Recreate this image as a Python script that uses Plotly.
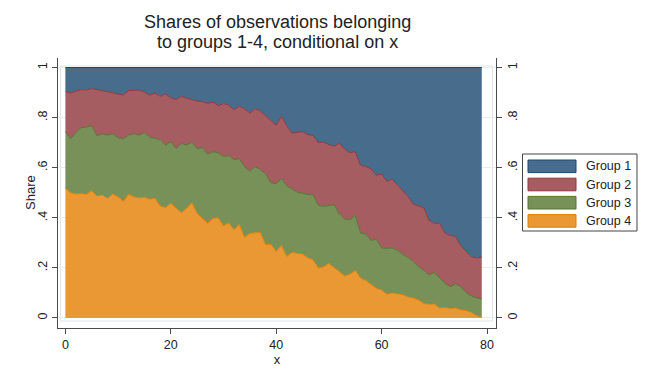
import numpy as np
import plotly.graph_objects as go

# ---------------- data ----------------
x_vals = list(range(80))

# cumulative upper edge of Group 4 (orange, bottom band)
top_g4 = [0.518, 0.500, 0.495, 0.497, 0.494, 0.508, 0.487, 0.491, 0.478, 0.495,
          0.484, 0.466, 0.494, 0.484, 0.480, 0.482, 0.474, 0.478, 0.447, 0.441,
          0.458, 0.438, 0.420, 0.438, 0.460, 0.418, 0.398, 0.378, 0.398, 0.400,
          0.368, 0.380, 0.352, 0.374, 0.322, 0.338, 0.340, 0.341, 0.292, 0.294,
          0.266, 0.289, 0.246, 0.262, 0.258, 0.255, 0.240, 0.232, 0.200, 0.205,
          0.218, 0.200, 0.185, 0.168, 0.175, 0.190, 0.160, 0.150, 0.135, 0.118,
          0.112, 0.095, 0.100, 0.098, 0.093, 0.084, 0.080, 0.072, 0.058, 0.055,
          0.056, 0.040, 0.042, 0.038, 0.040, 0.033, 0.030, 0.022, 0.010, 0.003]

# cumulative upper edge of Group 3 (green)
top_g3 = [0.744, 0.716, 0.740, 0.760, 0.762, 0.768, 0.727, 0.735, 0.730, 0.735,
          0.720, 0.716, 0.730, 0.736, 0.730, 0.740, 0.722, 0.716, 0.712, 0.690,
          0.704, 0.676, 0.697, 0.690, 0.702, 0.676, 0.680, 0.655, 0.664, 0.660,
          0.645, 0.648, 0.632, 0.636, 0.604, 0.586, 0.604, 0.592, 0.575, 0.540,
          0.536, 0.557, 0.528, 0.515, 0.502, 0.498, 0.493, 0.492, 0.450, 0.446,
          0.448, 0.452, 0.415, 0.395, 0.392, 0.410, 0.340, 0.335, 0.310, 0.315,
          0.280, 0.278, 0.280, 0.270, 0.255, 0.242, 0.225, 0.205, 0.190, 0.172,
          0.182, 0.160, 0.140, 0.125, 0.135, 0.125, 0.102, 0.088, 0.080, 0.076]

# cumulative upper edge of Group 2 (red)
top_g2 = [0.904, 0.898, 0.906, 0.912, 0.910, 0.916, 0.912, 0.908, 0.904, 0.897,
          0.895, 0.890, 0.908, 0.910, 0.910, 0.902, 0.890, 0.898, 0.885, 0.895,
          0.880, 0.872, 0.885, 0.878, 0.872, 0.866, 0.864, 0.857, 0.862, 0.848,
          0.856, 0.850, 0.832, 0.845, 0.835, 0.818, 0.836, 0.826, 0.808, 0.790,
          0.770, 0.805, 0.768, 0.738, 0.742, 0.744, 0.732, 0.728, 0.700, 0.702,
          0.692, 0.686, 0.698, 0.674, 0.660, 0.664, 0.610, 0.605, 0.595, 0.570,
          0.575, 0.545, 0.555, 0.532, 0.505, 0.485, 0.455, 0.448, 0.440, 0.390,
          0.378, 0.378, 0.340, 0.330, 0.326, 0.290, 0.268, 0.245, 0.240, 0.243]

group_names = ["Group 1", "Group 2", "Group 3", "Group 4"]
y_ticks = [0, 0.2, 0.4, 0.6, 0.8, 1]
y_tick_labels = ["0", ".2", ".4", ".6", ".8", "1"]
x_ticks = [0, 20, 40, 60, 80]

# shares per group (derived from the cumulative edges)
g4 = np.array(top_g4)
g3 = np.array(top_g3) - g4
g2 = np.array(top_g2) - np.array(top_g3)
g1 = 1 - np.array(top_g2)
shares = {"Group 1": g1, "Group 2": g2, "Group 3": g3, "Group 4": g4}

line_colors = {"Group 1": "#1a476f", "Group 2": "#90353b",
               "Group 3": "#55752f", "Group 4": "#e37e00"}
fill_colors = {"Group 1": "#486c8c", "Group 2": "#a65d62",
               "Group 3": "#779159", "Group 4": "#e99833"}

FONT = "Liberation Sans, Arial, sans-serif"
TXT = "#222222"
AX = "#4a4a4a"

fig = go.Figure()
for name in ["Group 4", "Group 3", "Group 2", "Group 1"]:
    fig.add_trace(go.Scatter(
        x=x_vals, y=shares[name], name=name, mode="lines",
        stackgroup="s", line=dict(color=line_colors[name], width=1),
        fillcolor=fill_colors[name], showlegend=False, hoverinfo="skip"))

# invisible trace to activate the right axis
fig.add_trace(go.Scatter(x=[x_vals[0]], y=[0], yaxis="y2", mode="markers",
                         marker=dict(opacity=0), showlegend=False, hoverinfo="skip"))

W, H = 651, 373
ML, MR, MT, MB = 58, 155, 58, 45
PW, PH = W - ML - MR, H - MT - MB


def px(xp):
    return (xp - ML) / PW


def py(yp):
    return (H - MB - yp) / PH


axis_common = dict(showline=True, linecolor=AX, linewidth=1, ticks="outside",
                   ticklen=5, tickcolor=AX, tickwidth=1, zeroline=False,
                   tickfont=dict(family=FONT, size=12.5, color=TXT))

fig.update_layout(
    width=W, height=H,
    margin=dict(l=ML, r=MR, t=MT, b=MB, pad=0),
    paper_bgcolor="white", plot_bgcolor="white",
    font=dict(family=FONT, color=TXT),
    xaxis=dict(range=[-1.4, 81.7], tickvals=x_ticks, showgrid=False,
               title=dict(text="x", font=dict(family=FONT, size=13, color=TXT), standoff=1),
               **axis_common),
    yaxis=dict(range=[-0.04, 1.038], tickvals=y_ticks, ticktext=y_tick_labels,
               tickangle=-90, showgrid=True, gridcolor="#e6eef0", gridwidth=1,
               **axis_common),
    yaxis2=dict(range=[-0.04, 1.038], tickvals=y_ticks, ticktext=y_tick_labels,
                tickangle=-90, overlaying="y", side="right", showgrid=False,
                **axis_common),
)

# y-axis title
fig.add_annotation(text="Share", xref="paper", yref="paper", x=px(30), y=py(193),
                   textangle=-90, showarrow=False, xanchor="center", yanchor="middle",
                   font=dict(family=FONT, size=13, color=TXT))

# faint inner plot-region frame
fig.add_shape(type="rect", xref="paper", yref="paper",
              x0=px(60.5), x1=px(492.5), y0=py(321), y1=py(66),
              line=dict(color="#dde4e8", width=1), fillcolor="rgba(0,0,0,0)", layer="below")

# title
fig.add_annotation(text="Shares of observations belonging", xref="paper", yref="paper",
                   x=0.5, y=py(22), showarrow=False, yanchor="middle",
                   font=dict(family=FONT, size=18, color=TXT))
fig.add_annotation(text="to groups 1-4, conditional on x", xref="paper", yref="paper",
                   x=0.5, y=py(42), showarrow=False, yanchor="middle",
                   font=dict(family=FONT, size=18, color=TXT))

# legend box
fig.add_shape(type="rect", xref="paper", yref="paper",
              x0=px(522.5), x1=px(637), y0=py(231), y1=py(154),
              line=dict(color="#444444", width=1), fillcolor="white")
row_centers = [166.3, 184.5, 202.7, 220.9]
for name, yc in zip(group_names, row_centers):
    fig.add_shape(type="rect", xref="paper", yref="paper",
                  x0=px(528), x1=px(576), y0=py(yc + 6.3), y1=py(yc - 6.3),
                  line=dict(color=line_colors[name], width=1),
                  fillcolor=fill_colors[name])
    fig.add_annotation(text=name, xref="paper", yref="paper", x=px(584), y=py(yc),
                       xanchor="left", yanchor="middle", showarrow=False,
                       font=dict(family=FONT, size=12.5, color=TXT))

fig.write_html("out.html")
